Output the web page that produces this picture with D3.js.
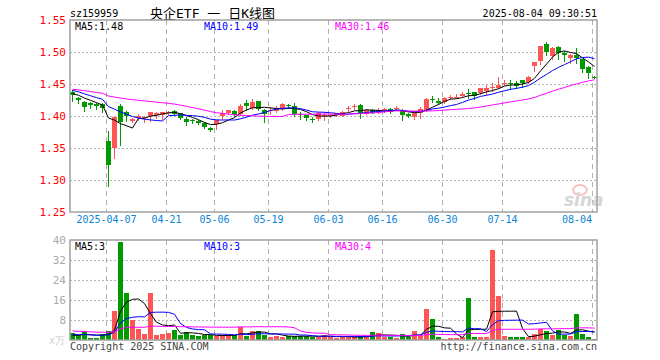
<!DOCTYPE html>
<html><head><meta charset="utf-8">
<script src="https://cdn.jsdelivr.net/npm/d3@7"></script>
<style>
body{margin:0;background:#fff}
svg{display:block}
text{font-family:"DejaVu Sans Mono","Liberation Mono",monospace;font-size:10px}
</style>
</head><body>
<svg id="c" width="660" height="360"></svg>
<script>
const dates = ["2025-03-27","2025-03-28","2025-03-31","2025-04-01","2025-04-02","2025-04-03","2025-04-07","2025-04-08","2025-04-09","2025-04-10","2025-04-11","2025-04-14","2025-04-15","2025-04-16","2025-04-17","2025-04-18","2025-04-21","2025-04-22","2025-04-23","2025-04-24","2025-04-25","2025-04-28","2025-04-29","2025-04-30","2025-05-06","2025-05-07","2025-05-08","2025-05-09","2025-05-12","2025-05-13","2025-05-14","2025-05-15","2025-05-16","2025-05-19","2025-05-20","2025-05-21","2025-05-22","2025-05-23","2025-05-26","2025-05-27","2025-05-28","2025-05-29","2025-05-30","2025-06-03","2025-06-04","2025-06-05","2025-06-06","2025-06-09","2025-06-10","2025-06-11","2025-06-12","2025-06-13","2025-06-16","2025-06-17","2025-06-18","2025-06-19","2025-06-20","2025-06-23","2025-06-24","2025-06-25","2025-06-26","2025-06-27","2025-06-30","2025-07-01","2025-07-02","2025-07-03","2025-07-04","2025-07-07","2025-07-08","2025-07-09","2025-07-10","2025-07-11","2025-07-14","2025-07-15","2025-07-16","2025-07-17","2025-07-18","2025-07-21","2025-07-22","2025-07-23","2025-07-24","2025-07-25","2025-07-28","2025-07-29","2025-07-30","2025-07-31","2025-08-01","2025-08-04"];

const open  = [1.437,1.428,1.4225,1.421,1.418,1.419,1.361,1.349,1.4156,1.406,1.392,1.397,1.397,1.400,1.4025,1.402,1.406,1.408,1.404,1.396,1.393,1.392,1.389,1.382,1.387,1.401,1.404,1.408,1.403,1.421,1.412,1.423,1.410,1.409,1.408,1.410,1.417,1.415,1.403,1.401,1.396,1.395,1.400,1.401,1.4016,1.401,1.411,1.414,1.417,1.404,1.410,1.409,1.4095,1.411,1.4125,1.410,1.403,1.398,1.405,1.409,1.4265,1.4235,1.421,1.4295,1.4298,1.432,1.436,1.4375,1.435,1.439,1.445,1.444,1.4515,1.452,1.451,1.456,1.453,1.477,1.486,1.512,1.494,1.508,1.498,1.491,1.495,1.4885,1.477,1.461];
const high  = [1.441,1.430,1.424,1.4225,1.420,1.421,1.377,1.399,1.419,1.408,1.397,1.403,1.400,1.407,1.407,1.407,1.408,1.409,1.405,1.398,1.395,1.394,1.390,1.383,1.393,1.409,1.410,1.409,1.418,1.425,1.426,1.424,1.411,1.414,1.415,1.420,1.4195,1.420,1.407,1.402,1.399,1.406,1.406,1.403,1.405,1.408,1.415,1.4185,1.418,1.411,1.411,1.412,1.412,1.413,1.416,1.411,1.405,1.405,1.414,1.428,1.431,1.428,1.429,1.433,1.434,1.437,1.4417,1.438,1.444,1.448,1.451,1.4615,1.457,1.457,1.454,1.457,1.462,1.485,1.510,1.516,1.508,1.509,1.5016,1.497,1.506,1.489,1.478,1.462];
const low   = [1.424,1.421,1.408,1.4125,1.411,1.406,1.291,1.334,1.355,1.3925,1.390,1.394,1.3906,1.392,1.397,1.395,1.403,1.402,1.395,1.386,1.389,1.387,1.381,1.377,1.3796,1.396,1.403,1.400,1.402,1.4094,1.411,1.409,1.391,1.403,1.407,1.409,1.4125,1.400,1.395,1.394,1.390,1.393,1.394,1.399,1.400,1.400,1.408,1.411,1.397,1.403,1.404,1.405,1.407,1.404,1.410,1.393,1.399,1.395,1.3974,1.408,1.422,1.418,1.420,1.427,1.428,1.431,1.4286,1.427,1.434,1.435,1.439,1.443,1.448,1.4427,1.443,1.446,1.452,1.470,1.482,1.496,1.4885,1.4885,1.486,1.483,1.483,1.468,1.460,1.459];
const close = [1.432,1.425,1.4145,1.418,1.415,1.413,1.324,1.398,1.390,1.399,1.395,1.400,1.398,1.407,1.405,1.407,1.407,1.403,1.396,1.391,1.392,1.389,1.382,1.379,1.393,1.405,1.409,1.401,1.415,1.417,1.422,1.410,1.404,1.410,1.413,1.418,1.416,1.402,1.402,1.396,1.395,1.405,1.401,1.402,1.4042,1.407,1.412,1.415,1.404,1.410,1.405,1.4095,1.4105,1.407,1.413,1.4016,1.400,1.405,1.411,1.427,1.426,1.421,1.428,1.430,1.4302,1.435,1.435,1.431,1.443,1.444,1.446,1.449,1.452,1.451,1.446,1.452,1.461,1.484,1.509,1.499,1.507,1.499,1.495,1.496,1.491,1.473,1.467,1.460];
const volume = [2.67,1.87,3.47,0.93,0.93,2.4,3.6,11.6,39.2,18.9,8.0,4.4,2.4,18.8,2.0,2.5,2.8,4.0,2.1,3.2,2.1,1.7,1.9,1.9,1.6,1.9,1.9,1.9,5.1,1.6,3.6,3.6,2.0,1.3,1.6,1.3,1.6,1.6,1.6,1.6,1.3,1.3,2.0,1.3,0.9,1.3,1.3,1.1,1.6,1.3,3.2,2.7,1.3,1.3,0.9,2.4,1.3,3.7,1.6,12.5,8.4,1.3,0.5,0.9,0.9,1.1,16.8,1.3,1.3,1.1,36.0,17.6,1.6,1.3,1.3,1.3,1.3,2.4,4.3,3.7,2.0,4.0,1.9,1.6,10.4,2.4,1.3,0.5];
// closes and volumes of the 29 sessions before the window (estimated from the MA lines)
const priorClose = [1.450,1.455,1.458,1.456,1.452,1.454,1.445,1.440,1.436,1.432,1.430,1.428,1.432,1.435,1.437,1.433,1.440,1.444,1.447,1.4475,1.446,1.448,1.447,1.444,1.440,1.438,1.437,1.435,1.433];
const priorVolume = [5.5,4.8,6.2,4.0,3.5,4.5,5.0,3.8,4.2,3.9,4.6,3.7,4.1,3.6,4.4,4.0,3.8,4.3,3.9,3.6,3.2,2.8,2.6,2.5,2.2,1.8,1.6,1.7,1.6];

const priceTicks = [1.25,1.30,1.35,1.40,1.45,1.50,1.55];
const volumeTicks = [8,16,24,32,40];
const dateTicks = ["2025-04-07","2025-04-21","2025-05-06","2025-05-19","2025-06-03","2025-06-16","2025-06-30","2025-07-14","2025-08-04"];
const maPeriods = [5,10,30];
const maColors = ["#000000","#0000ff","#ff00ff"];

const RED = "#ff5555", GREEN = "#009900";
const svg = d3.select("#c");
const L = 70, R = 597;
const x = d3.scaleBand().domain(dates).range([69, 597]).paddingInner(0).paddingOuter(0);
const xc = d => x(d) + 3.5;
const y = d3.scaleLinear().domain([1.25,1.55]).range([212,20]);
const yv = d3.scaleLinear().domain([0,40]).range([340,240]);

function ma(series, prior, n){
  const full = prior.concat(series);
  const off = prior.length;
  return series.map((_, i) => d3.mean(full.slice(off + i - n + 1, off + i + 1)));
}
const priceMA = maPeriods.map(n => ma(close, priorClose, n));
const volMA = maPeriods.map(n => ma(volume, priorVolume, n));

// header
svg.append("text").attr("x",70).attr("y",17).attr("fill","#000").text("sz159959");
svg.append("text").attr("x",150).attr("y",18).attr("fill","#000")
  .style("font-family","'DejaVu Sans Mono','Noto Sans CJK SC',monospace").style("font-size","13px")
  .attr("xml:space","preserve").style("white-space","pre")
  .text("央企ETF 一 日K线图");
svg.append("text").attr("x",597).attr("y",17).attr("text-anchor","end").attr("fill","#000").text("2025-08-04 09:30:51");

function panel(top, bottom, yScale, hTicks){
  const g = svg.append("g");
  g.selectAll("line.h").data(hTicks).join("line")
    .attr("x1",L).attr("x2",R).attr("y1",d=>Math.round(yScale(d))+0.5).attr("y2",d=>Math.round(yScale(d))+0.5)
    .attr("stroke","#b4b4b4").attr("stroke-dasharray","2,2");
  g.selectAll("line.v").data(dateTicks).join("line")
    .attr("x1",d=>x(d)+1.5).attr("x2",d=>x(d)+1.5).attr("y1",top).attr("y2",bottom)
    .attr("stroke","#b0b0b0").attr("stroke-dasharray","5,4");
  return g;
}
panel(20,212,y,[1.30,1.35,1.40,1.45,1.50]);
panel(240,340,yv,[8,16,24,32]);

// price axis labels
const ya = svg.append("g").attr("transform","translate(70,0)")
  .call(d3.axisLeft(y).tickValues(priceTicks).tickFormat(d3.format(".2f")).tickSize(0).tickPadding(4));
ya.select(".domain").remove();
ya.selectAll("text").attr("fill","#ff0000").style("font-family","'DejaVu Sans Mono',monospace").style("font-size","11px");

// volume axis labels
const va = svg.append("g").attr("transform","translate(70,0)")
  .call(d3.axisLeft(yv).tickValues(volumeTicks).tickSize(0).tickPadding(4));
va.select(".domain").remove();
va.selectAll("text").attr("fill","#aaaaaa").style("font-family","'DejaVu Sans Mono',monospace").style("font-size","11px");
svg.append("text").attr("x",65).attr("y",344).attr("text-anchor","end").attr("fill","#cccccc").text("x万");

// date axis
const xa = svg.append("g").attr("transform","translate(-1.5,214)")
  .call(d3.axisBottom(x).tickValues(dateTicks).tickSize(0).tickPadding(0)
    .tickFormat((d,i)=> i===0 ? d : d.slice(5)));
xa.select(".domain").remove();
xa.selectAll("text").attr("fill","#0a84d6").attr("dy","0.71em").attr("y",2)
  .style("font-family","'DejaVu Sans Mono',monospace").style("font-size","10px");
xa.selectAll("text").filter(d => d === dateTicks[dateTicks.length-1]).attr("text-anchor","end").attr("x",-0.5);

// sina watermark
svg.append("ellipse").attr("cx",580).attr("cy",190).attr("rx",7).attr("ry",5).attr("fill","none").attr("stroke","#f6c0c0").attr("stroke-width",2);
svg.append("text").attr("x",564).attr("y",206).attr("fill","#d6d6d6")
  .style("font-family","'DejaVu Sans',sans-serif").style("font-size","17px").style("font-weight","bold").style("font-style","italic").text("sina");

// candles
const idx = d3.range(dates.length);
const col = i => close[i] >= open[i] ? RED : GREEN;
const cg = svg.append("g");
cg.selectAll("line.w").data(idx).join("line")
  .attr("x1",i=>xc(dates[i])).attr("x2",i=>xc(dates[i]))
  .attr("y1",i=>Math.round(y(high[i]))).attr("y2",i=>Math.round(y(low[i]))+1)
  .attr("stroke",col);
cg.selectAll("rect.b").data(idx).join("rect")
  .attr("x",i=>x(dates[i])+1).attr("width",5)
  .attr("y",i=>Math.round(Math.min(y(open[i]),y(close[i]))))
  .attr("height",i=>Math.max(1,Math.round(Math.abs(y(open[i])-y(close[i])))))
  .attr("fill",col);

// volume bars
svg.append("g").selectAll("rect").data(idx).join("rect")
  .attr("x",i=>x(dates[i])+1).attr("width",5)
  .attr("y",i=>Math.round(yv(volume[i]))).attr("height",i=>340-Math.round(yv(volume[i])))
  .attr("fill",col);

// MA lines
maPeriods.forEach((n,k)=>{
  svg.append("path").datum(priceMA[k])
    .attr("d",d3.line().x((d,i)=>xc(dates[i])).y(d=>y(d)))
    .attr("fill","none").attr("stroke",maColors[k]).attr("stroke-width",1);
  svg.append("path").datum(volMA[k])
    .attr("d",d3.line().x((d,i)=>xc(dates[i])).y(d=>yv(d)))
    .attr("fill","none").attr("stroke",maColors[k]).attr("stroke-width",1);
});

// frames
svg.append("rect").attr("x",70).attr("y",20).attr("width",527).attr("height",192).attr("fill","none").attr("stroke","#a0a0a0").attr("stroke-width",1.5);
svg.append("rect").attr("x",70).attr("y",240).attr("width",527).attr("height",100).attr("fill","none").attr("stroke","#a0a0a0").attr("stroke-width",1.5);

// legends
const last = dates.length-1;
const lx = [75,204,335];
maPeriods.forEach((n,k)=>{
  svg.append("text").attr("x",lx[k]).attr("y",30).attr("fill",maColors[k])
    .text(`MA${n}:${priceMA[k][last].toFixed(2)}`);
  svg.append("text").attr("x",lx[k]).attr("y",250).attr("fill",maColors[k])
    .text(`MA${n}:${Math.floor(volMA[k][last])}`);
});

// footer
svg.append("text").attr("x",70).attr("y",350).attr("fill","#444").text("Copyright 2025 SINA.COM");
svg.append("text").attr("x",597).attr("y",350).attr("text-anchor","end").attr("fill","#444").text("http://finance.sina.com.cn");
</script>
</body></html>
